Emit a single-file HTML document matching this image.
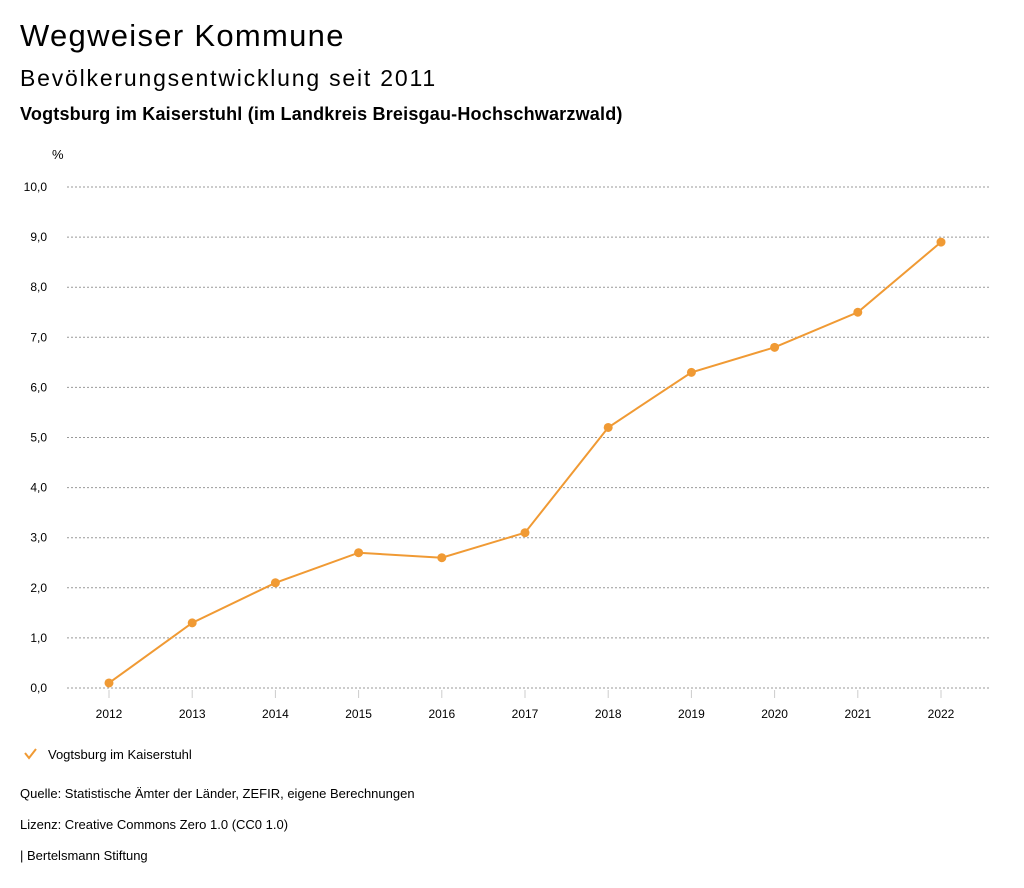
<!DOCTYPE html>
<html><head><meta charset="utf-8"><style>
body{margin:0;width:1024px;height:888px;background:#fff;font-family:"Liberation Sans",sans-serif;color:#000;overflow:hidden;position:relative}
.t{position:absolute;left:20px;white-space:nowrap}
</style></head><body>
<div class="t" style="top:18px;font-size:31px;letter-spacing:1.3px">Wegweiser Kommune</div>
<div class="t" style="top:65px;font-size:23px;letter-spacing:1.8px">Bevölkerungsentwicklung seit 2011</div>
<div class="t" style="top:104px;font-size:18px;font-weight:bold;letter-spacing:0.2px">Vogtsburg im Kaiserstuhl (im Landkreis Breisgau-Hochschwarzwald)</div>
<svg id="chart" width="1024" height="888" style="position:absolute;left:0;top:0"></svg>
<div class="t" style="top:786px;font-size:13px">Quelle: Statistische Ämter der Länder, ZEFIR, eigene Berechnungen</div>
<div class="t" style="top:817px;font-size:13px">Lizenz: Creative Commons Zero 1.0 (CC0 1.0)</div>
<div class="t" style="top:848px;font-size:13px">| Bertelsmann Stiftung</div>
<script>
const years=[2012,2013,2014,2015,2016,2017,2018,2019,2020,2021,2022];
const values=[0.1,1.3,2.1,2.7,2.6,3.1,5.2,6.3,6.8,7.5,8.9];
const yTicks=[0,1,2,3,4,5,6,7,8,9,10];
const yTickLabels=["0,0","1,0","2,0","3,0","4,0","5,0","6,0","7,0","8,0","9,0","10,0"];
const seriesName="Vogtsburg im Kaiserstuhl";
const NS="http://www.w3.org/2000/svg",svg=document.getElementById('chart');
const X=y=>109+(y-2012)*83.2, Y=v=>688-v*50.1;
function mk(t,a,p){const e=document.createElementNS(NS,t);for(const k in a)e.setAttribute(k,a[k]);(p||svg).appendChild(e);return e;}
let u=mk('text',{x:52,y:159,'font-size':13});u.textContent='%';


yTicks.forEach((v,i)=>{
 const l=mk('line',{x1:67,x2:990,y1:Y(v),y2:Y(v),stroke:'#999','stroke-dasharray':'2,2','stroke-width':1});
 
 
 const t=mk('text',{x:47,y:Y(v)+4,'font-size':12,'text-anchor':'end'});t.textContent=yTickLabels[i];
 
 
});
years.forEach(y=>{
 const l=mk('line',{x1:X(y),x2:X(y),y1:690,y2:698,stroke:'#ccc'});
 
 
 const t=mk('text',{x:X(y),y:718,'font-size':12,'text-anchor':'middle'});t.textContent=y;
 
 
});
const c='#f09a34';
const p=mk('polyline',{points:years.map((y,i)=>X(y)+','+Y(values[i])).join(' '),fill:'none',stroke:c,'stroke-width':2});


years.forEach((y,i)=>{
 const d=mk('circle',{cx:X(y),cy:Y(values[i]),r:4.5,fill:c});
 
 
});
const g=mk('g',{});


mk('polyline',{points:'25,753 29,758 36,749',fill:'none',stroke:c,'stroke-width':2},g);
const lt=mk('text',{x:48,y:759,'font-size':13},g);lt.textContent=seriesName;
</script>
</body></html>
